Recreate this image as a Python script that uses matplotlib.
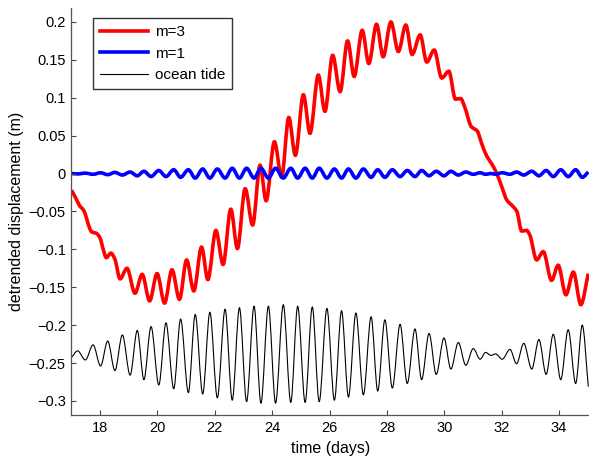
import matplotlib
matplotlib.use("Agg")
import numpy as np
import matplotlib.pyplot as plt
from matplotlib.path import Path
from matplotlib.patches import PathPatch
from matplotlib.lines import Line2D
from matplotlib.ticker import FixedLocator, FuncFormatter

plt.rcParams['font.family'] = ['Liberation Sans', 'DejaVu Sans']

# ---- data (time in days, displacement in m) ----
tide_t = [17.02, 17.22, 17.49, 17.76, 18.02, 18.27, 18.52, 18.78, 19.05, 19.30,
          19.53, 19.78, 20.05, 20.30, 20.57, 20.81, 21.08, 21.32, 21.58, 21.83,
          22.09, 22.36, 22.61, 22.86, 23.11, 23.37, 23.61, 23.87, 24.12, 24.39,
          24.65, 24.89, 25.15, 25.40, 25.64, 25.91, 26.17, 26.42, 26.66, 26.92,
          27.18, 27.45, 27.68, 27.93, 28.19, 28.46, 28.71, 28.98, 29.21, 29.47,
          29.72, 29.99, 30.23, 30.49, 30.75, 31.01, 31.25, 31.44, 31.63, 31.79,
          32.02, 32.29, 32.52, 32.77, 33.05, 33.30, 33.55, 33.80, 34.06, 34.32,
          34.58, 34.81, 35.02]
tide_v = [-0.242, -0.234, -0.246, -0.226, -0.254, -0.221, -0.260, -0.213, -0.266, -0.207,
          -0.272, -0.202, -0.279, -0.197, -0.284, -0.192, -0.289, -0.186, -0.291, -0.183,
          -0.296, -0.179, -0.299, -0.177, -0.301, -0.175, -0.303, -0.175, -0.303, -0.173,
          -0.302, -0.175, -0.302, -0.176, -0.301, -0.178, -0.299, -0.181, -0.295, -0.184,
          -0.292, -0.189, -0.287, -0.193, -0.283, -0.199, -0.277, -0.205, -0.272, -0.211,
          -0.265, -0.217, -0.258, -0.223, -0.253, -0.231, -0.245, -0.236, -0.240, -0.238,
          -0.245, -0.232, -0.251, -0.224, -0.258, -0.219, -0.265, -0.212, -0.272, -0.206,
          -0.277, -0.200, -0.281]

m3_t = [17.01, 17.19, 17.30, 17.42, 17.50, 17.60, 17.71, 17.88, 18.00, 18.12,
        18.22, 18.38, 18.52, 18.70, 18.94, 19.22, 19.47, 19.73, 19.99, 20.25,
        20.51, 20.77, 21.02, 21.27, 21.54, 21.76, 22.04, 22.29, 22.56, 22.79,
        23.06, 23.32, 23.58, 23.79, 24.08, 24.33, 24.58, 24.81, 25.09, 25.32,
        25.61, 25.84, 26.11, 26.37, 26.63, 26.86, 27.14, 27.37, 27.64, 27.87,
        28.14, 28.40, 28.66, 28.88, 29.16, 29.39, 29.65, 29.91, 30.16, 30.39,
        30.57, 30.71, 30.94, 31.15, 31.30, 31.48, 31.65, 31.83, 32.00, 32.18,
        32.41, 32.53, 32.70, 32.87, 32.98, 33.22, 33.45, 33.74, 33.97, 34.24,
        34.50, 34.76, 35.02]
m3_v = [-0.022, -0.035, -0.043, -0.048, -0.055, -0.068, -0.077, -0.079, -0.085, -0.101,
        -0.111, -0.105, -0.113, -0.139, -0.125, -0.158, -0.133, -0.168, -0.132, -0.171,
        -0.127, -0.166, -0.114, -0.155, -0.097, -0.140, -0.075, -0.120, -0.047, -0.099,
        -0.020, -0.068, 0.011, -0.036, 0.042, -0.005, 0.074, 0.024, 0.104, 0.053,
        0.130, 0.082, 0.156, 0.108, 0.175, 0.128, 0.189, 0.145, 0.197, 0.154,
        0.200, 0.161, 0.196, 0.157, 0.183, 0.147, 0.163, 0.126, 0.135, 0.098,
        0.099, 0.088, 0.062, 0.056, 0.040, 0.023, 0.013, 0.000, -0.017, -0.035,
        -0.044, -0.050, -0.076, -0.075, -0.081, -0.114, -0.103, -0.141, -0.121, -0.160,
        -0.130, -0.173, -0.132]

m1_t = tide_t
m1_v = [0.000, -0.0005, 0.0005, -0.001, 0.001, -0.0015, 0.0015, -0.002, 0.002, -0.003,
        0.003, -0.004, 0.004, -0.004, 0.005, -0.005, 0.005, -0.006, 0.006, -0.006,
        0.006, -0.006, 0.007, -0.006, 0.007, -0.006, 0.007, -0.006, 0.007, -0.006,
        0.007, -0.006, 0.007, -0.006, 0.007, -0.006, 0.006, -0.006, 0.006, -0.006,
        0.006, -0.005, 0.005, -0.005, 0.005, -0.004, 0.004, -0.004, 0.004, -0.003,
        0.003, -0.003, 0.003, -0.002, 0.002, -0.001, 0.001, -0.001, 0.000, -0.001,
        0.001, -0.001, 0.002, -0.002, 0.003, -0.003, 0.004, -0.004, 0.005, -0.004,
        0.005, -0.005, 0.002]

x_ticks = [18, 20, 22, 24, 26, 28, 30, 32, 34]
y_ticks = [-0.3, -0.25, -0.2, -0.15, -0.1, -0.05, 0, 0.05, 0.1, 0.15, 0.2]
series_labels = ['m=3', 'm=1', 'ocean tide']
x_label = 'time (days)'
y_label = 'detrended displacement (m)'


def smooth_path(t, v):
    """Smooth (shape-preserving cubic Bezier) path through the read points."""
    t = np.asarray(t, float)
    v = np.asarray(v, float)
    h = np.diff(t)
    d = np.diff(v) / h
    m = np.zeros_like(v)
    m[0], m[-1] = d[0], d[-1]
    for k in range(1, len(v) - 1):
        if d[k - 1] * d[k] > 0:
            w1 = 2 * h[k] + h[k - 1]
            w2 = h[k] + 2 * h[k - 1]
            m[k] = (w1 + w2) / (w1 / d[k - 1] + w2 / d[k])
    verts = [(t[0], v[0])]
    codes = [Path.MOVETO]
    for k in range(len(v) - 1):
        verts += [(t[k] + h[k] / 3, v[k] + m[k] * h[k] / 3),
                  (t[k + 1] - h[k] / 3, v[k + 1] - m[k + 1] * h[k] / 3),
                  (t[k + 1], v[k + 1])]
        codes += [Path.CURVE4] * 3
    return Path(verts, codes)


# ---- figure ----
W, H = 589, 458
fig = plt.figure(figsize=(W / 100, H / 100), dpi=100)
left_px, right_px, top_px, bottom_px = 71.3, 589, 8, 415
ax = fig.add_axes([left_px / W, 1 - bottom_px / H,
                   (right_px - left_px) / W, (bottom_px - top_px) / H])

styles = [dict(color='#ff0000', lw=2.6), dict(color='#0000ff', lw=2.6), dict(color='black', lw=0.8)]
series = [(m3_t, m3_v), (m1_t, m1_v), (tide_t, tide_v)]
for (t, v), st in zip(series, styles):
    ax.add_patch(PathPatch(smooth_path(t, v), facecolor='none', edgecolor=st['color'],
                           lw=st['lw'], joinstyle='round', capstyle='butt'))

ax.set_xlim(17, 17 + (right_px - left_px) / 28.69)
ax.set_ylim(-0.3186, 0.2184)

ax.xaxis.set_major_locator(FixedLocator(x_ticks))
ax.yaxis.set_major_locator(FixedLocator(y_ticks))
ax.yaxis.set_major_formatter(FuncFormatter(lambda v, p: ('%g' % round(v, 3)).replace('-', '\u2212')))
ax.tick_params(direction='in', length=3.5, width=0.8, labelsize=10.5, color='#444444')
ax.tick_params(axis='y', pad=4)
ax.tick_params(axis='x', pad=4)

for s in ['top', 'right']:
    ax.spines[s].set_visible(False)
for s in ['left', 'bottom']:
    ax.spines[s].set_color('#555555')
    ax.spines[s].set_linewidth(0.9)

ax.set_xlabel(x_label, fontsize=11.5, labelpad=5)
ax.set_ylabel(y_label, fontsize=11.5)
ax.yaxis.set_label_coords((24 - left_px) / (right_px - left_px), 0.5)

handles = [Line2D([], [], **st) for st in styles]
leg = ax.legend(handles, series_labels, loc='upper left', bbox_to_anchor=(93.3 / W, 1 - 18.3 / H),
                bbox_transform=fig.transFigure, fontsize=11, frameon=True,
                fancybox=False, borderaxespad=0, borderpad=0.45,
                handlelength=3.1, handletextpad=0.5, labelspacing=0.5)
leg.get_frame().set_edgecolor('black')
leg.get_frame().set_linewidth(1.0)

fig.savefig('out.png', dpi=100)
